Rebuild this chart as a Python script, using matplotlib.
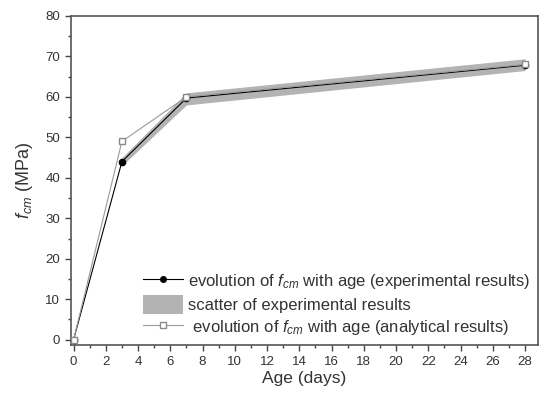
import numpy as np
import matplotlib
matplotlib.use("Agg")
import matplotlib.pyplot as plt
from matplotlib.ticker import MultipleLocator
from matplotlib.patches import Patch
from matplotlib.lines import Line2D

plt.rcParams['font.family'] = ['Liberation Sans', 'DejaVu Sans']
plt.rcParams['mathtext.fontset'] = 'custom'
plt.rcParams['mathtext.it'] = 'Liberation Sans:italic'
plt.rcParams['mathtext.rm'] = 'Liberation Sans'

# Dati
age_exp = [0, 3, 7, 28]
fcm_exp = [0, 44, 59.7, 67.8]

age_ana = [0, 3, 7, 28]
fcm_ana = [0, 49, 60, 68]

age_band = [3, 7, 28]
band_low = [43, 58, 66.5]
band_high = [45, 61, 69.4]

txt = '#333333'

fig = plt.figure(figsize=(5.39, 3.97), dpi=100)
ax = fig.add_axes([0.132, 0.131, 0.866, 0.829])

# Banda di dispersione
ax.fill_between(age_band, band_low, band_high, color='#b3b3b3', lw=0, zorder=1)

# Curve
ax.plot(age_exp, fcm_exp, color='black', lw=0.8, marker='o', ms=4.5,
        mfc='black', mec='black', zorder=3)
ax.plot(age_ana, fcm_ana, color='#9a9a9a', lw=0.8, marker='s', ms=5,
        mfc='white', mec='#8a8a8a', zorder=4)

ax.set_xlim(-0.15, 28.8)
ax.set_ylim(-1.3, 80)
ax.xaxis.set_major_locator(MultipleLocator(2))
ax.xaxis.set_minor_locator(MultipleLocator(1))
ax.yaxis.set_major_locator(MultipleLocator(10))
ax.yaxis.set_minor_locator(MultipleLocator(5))
ax.tick_params(which='both', direction='out', colors='#444444', labelcolor=txt,
               labelsize=9.5, top=False, right=False)
ax.tick_params(which='major', length=4, width=1, pad=4)
ax.tick_params(which='minor', length=2.5, width=1)
for s in ax.spines.values():
    s.set_color('#555555')
    s.set_linewidth(1.2)

ax.set_xlabel('Age (days)', fontsize=12.5, color=txt, labelpad=2)
ax.set_ylabel('$f_{cm}$ (MPa)', fontsize=13, color=txt, labelpad=7)

# Legenda
handles = [
    Line2D([0], [0], color='black', lw=0.8, marker='o', ms=4, mfc='black', mec='black'),
    Patch(facecolor='#b3b3b3', edgecolor='none'),
    Line2D([0], [0], color='#9a9a9a', lw=0.8, marker='s', ms=4, mfc='white', mec='#8a8a8a'),
]
labels = [
    'evolution of $f_{cm}$ with age (experimental results)',
    'scatter of experimental results',
    ' evolution of $f_{cm}$ with age (analytical results)',
]
leg = ax.legend(handles, labels, loc='lower right', frameon=False, fontsize=12,
                handlelength=2.4, handleheight=1.3, labelspacing=0.25,
                borderaxespad=0.05, handletextpad=0.3)
for t in leg.get_texts():
    t.set_color(txt)

fig.savefig('out.png', dpi=100)
